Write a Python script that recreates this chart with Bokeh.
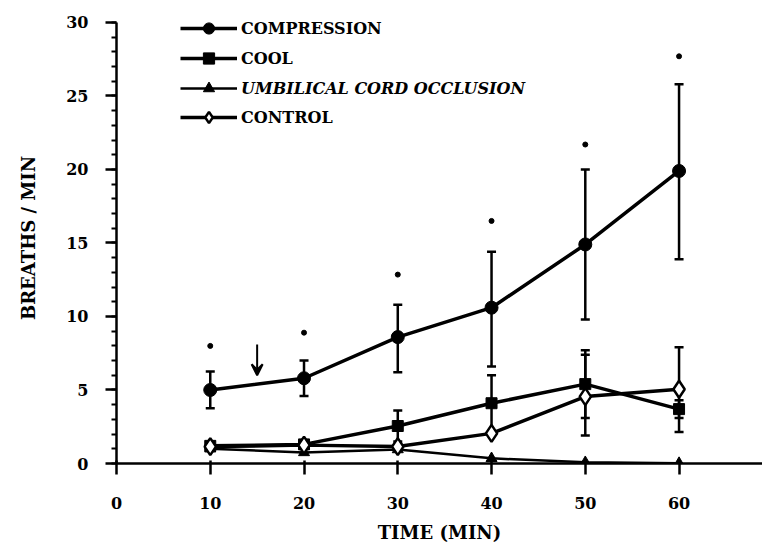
from bokeh.plotting import figure
from bokeh.models import (ColumnDataSource, Whisker, TeeHead, Arrow, VeeHead, Legend,
                          LegendItem, FixedTicker, SingleIntervalTicker, Range1d)
from bokeh.embed import file_html
from bokeh.resources import INLINE

# ---- data ----
times = [10, 20, 30, 40, 50, 60]

compression = [5.0, 5.8, 8.6, 10.6, 14.9, 19.9]
compression_upper = [6.25, 7.0, 10.8, 14.4, 20.0, 25.8]
compression_lower = [3.75, 4.6, 6.2, 6.6, 9.8, 13.9]
compression_sig = [8.0, 8.9, 12.85, 16.5, 21.7, 27.7]

cool = [1.2, 1.3, 2.55, 4.1, 5.4, 3.7]
cool_err_times = [30, 40, 50, 60]
cool_upper = [3.6, 6.0, 7.7, 4.3]
cool_lower = [1.5, 2.2, 3.1, 3.1]

occlusion = [1.0, 0.75, 0.95, 0.35, 0.08, 0.02]

control = [1.15, 1.25, 1.15, 2.05, 4.55, 5.05]
control_err_times = [50, 60]
control_upper = [7.4, 7.9]
control_lower = [1.9, 2.15]

arrow_time = 15
arrow_from = 8.1
arrow_to = 6.0

x_ticks = [0, 10, 20, 30, 40, 50, 60]
y_axis_bounds = (0, 30)

FONT = "DejaVu Serif"

p = figure(width=762, height=546, x_range=Range1d(0, 68.9), y_range=Range1d(0, 30.68),
           output_backend="svg", toolbar_location=None,
           min_border_left=116, min_border_right=0, min_border_top=12, min_border_bottom=83)
p.grid.visible = False
p.outline_line_color = None
p.background_fill_color = "white"

# axes
for ax in (p.xaxis[0], p.yaxis[0]):
    ax.axis_line_width = 2.5
    ax.axis_line_color = "black"
    ax.major_tick_line_width = 2.5
    ax.major_tick_line_color = "black"
    ax.major_label_text_font = FONT
    ax.major_label_text_font_style = "bold"
    ax.major_label_text_font_size = "16px"
    ax.major_label_text_color = "black"
    ax.axis_label_text_font = FONT
    ax.axis_label_text_font_style = "bold"
    ax.axis_label_text_font_size = "18px"
    ax.axis_label_text_color = "black"

p.xaxis.ticker = FixedTicker(ticks=x_ticks, minor_ticks=[])
p.xaxis.major_tick_out = 11
p.xaxis.major_tick_in = 3
p.xaxis.major_label_standoff = 22
p.xaxis.axis_label = "TIME (MIN)"
p.xaxis.axis_label_standoff = 10

p.yaxis.bounds = y_axis_bounds
p.yaxis.ticker = SingleIntervalTicker(interval=5, num_minor_ticks=5)
p.yaxis.major_tick_out = 11
p.yaxis.major_tick_in = 0
p.yaxis.minor_tick_out = 5
p.yaxis.minor_tick_in = 0
p.yaxis.minor_tick_line_width = 2
p.yaxis.minor_tick_line_color = "black"
p.yaxis.major_label_standoff = 17
p.yaxis.axis_label = "BREATHS / MIN"
p.yaxis.axis_label_standoff = 24

# error bars
def add_whisker(xs, up, lo):
    src = ColumnDataSource(dict(x=xs, upper=up, lower=lo))
    w = Whisker(source=src, base="x", upper="upper", lower="lower",
                line_width=2.5, line_color="black", level="underlay",
                upper_head=TeeHead(size=9, line_width=2.5, line_color="black"),
                lower_head=TeeHead(size=9, line_width=2.5, line_color="black"))
    p.add_layout(w)

add_whisker(times, compression_upper, compression_lower)
add_whisker(cool_err_times, cool_upper, cool_lower)
add_whisker(control_err_times, control_upper, control_lower)

# lines
l_occ = p.line(times, occlusion, line_width=2.5, color="black")
l_cool = p.line(times, cool, line_width=3.5, color="black")
l_ctrl = p.line(times, control, line_width=3.5, color="black")
l_comp = p.line(times, compression, line_width=3.5, color="black")

# markers
m_occ = p.scatter(times, occlusion, marker="triangle", size=11, color="black")
m_cool = p.scatter(times, cool, marker="square", size=11, color="black")
m_ctrl = p.scatter(times, control, marker="diamond", size=17, fill_color="white",
                   line_color="black", line_width=2.5)
m_comp = p.scatter(times, compression, marker="circle", size=13, color="black")

# significance marks
p.scatter(times, compression_sig, marker="circle", size=5, color="black")

# arrow
p.add_layout(Arrow(end=VeeHead(size=11, line_width=2, fill_color="black", line_color="black"),
                   x_start=arrow_time, y_start=arrow_from, x_end=arrow_time, y_end=arrow_to,
                   line_width=2, line_color="black"))

# legends (one per row so the occlusion label can be italic)
# frame bottom sits at y = 463 px; legend location is its bottom-left from frame bottom
rows = [("COMPRESSION", [l_comp, m_comp], "bold", 421),
        ("COOL", [l_cool, m_cool], "bold", 391),
        ("UMBILICAL CORD OCCLUSION", [l_occ, m_occ], "bold italic", 361),
        ("CONTROL", [l_ctrl, m_ctrl], "bold", 332)]
for label, rends, style, ypos in rows:
    lg = Legend(items=[LegendItem(label=label, renderers=rends)], location=(64, ypos),
                glyph_width=57, glyph_height=28, padding=0, margin=0, spacing=0,
                label_standoff=4, border_line_alpha=0, background_fill_alpha=0,
                label_text_font=FONT, label_text_font_style=style,
                label_text_font_size="16px", label_text_color="black")
    p.add_layout(lg)

open("out.html", "w").write(file_html(p, INLINE))
